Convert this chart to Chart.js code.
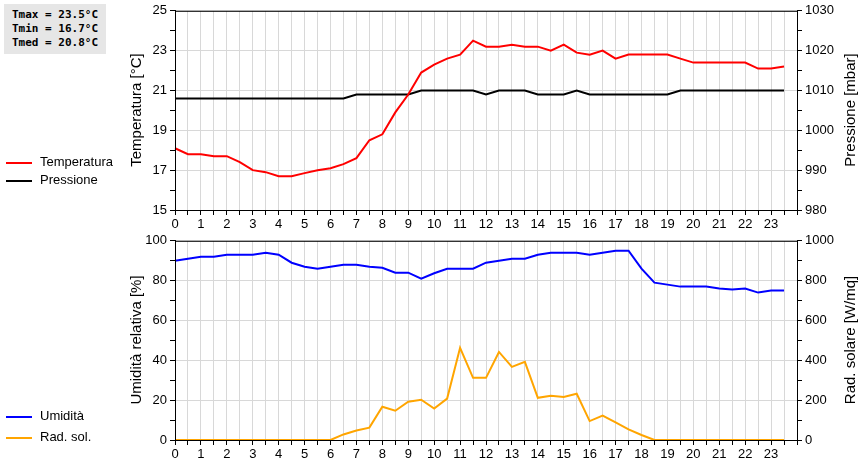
<!DOCTYPE html>
<html><head><meta charset="utf-8">
<script src="https://cdn.jsdelivr.net/npm/chart.js@4/dist/chart.umd.min.js"></script>
<style>
body{margin:0;background:#fff;font-family:"Liberation Sans",Arial,sans-serif;}
#wrap{position:relative;width:860px;height:460px;}
canvas{position:absolute;left:0;}
.stats{position:absolute;left:4px;top:4px;width:102px;height:50px;background:#e6e6e6;font:bold 11px "DejaVu Sans Mono",monospace;line-height:14px;padding:4px 0 0 8px;box-sizing:border-box;white-space:pre;}
.leg{position:absolute;left:6px;font-size:13px;color:#000;}
.leg span{display:inline-block;width:26px;height:2px;vertical-align:middle;margin-right:8px;}
.ttl{position:absolute;width:240px;height:20px;line-height:20px;text-align:center;font-size:15px;transform:rotate(-90deg);white-space:nowrap;}
</style></head><body>
<div id="wrap">
<canvas id="c1" width="860" height="230" style="top:0"></canvas>
<canvas id="c2" width="860" height="230" style="top:230px"></canvas>
<div class="stats">Tmax = 23.5°C
Tmin = 16.7°C
Tmed = 20.8°C</div>
<div class="leg" style="top:154px"><span style="background:#f00"></span>Temperatura</div>
<div class="leg" style="top:172px"><span style="background:#000"></span>Pressione</div>
<div class="leg" style="top:408px"><span style="background:#00f"></span>Umidità</div>
<div class="leg" style="top:429px"><span style="background:#ffa500"></span>Rad. sol.</div>
<div class="ttl" style="left:16px;top:100px">Temperatura [°C]</div>
<div class="ttl" style="left:730px;top:100px">Pressione [mbar]</div>
<div class="ttl" style="left:16px;top:330px">Umidità relativa [%]</div>
<div class="ttl" style="left:730px;top:330px">Rad. solare [W/mq]</div>
</div>
<script>
const hours = [0,0.5,1,1.5,2,2.5,3,3.5,4,4.5,5,5.5,6,6.5,7,7.5,8,8.5,9,9.5,10,10.5,11,11.5,12,12.5,13,13.5,14,14.5,15,15.5,16,16.5,17,17.5,18,18.5,19,19.5,20,20.5,21,21.5,22,22.5,23,23.5];
const temperatura = [18.1,17.8,17.8,17.7,17.7,17.4,17.0,16.9,16.7,16.7,16.85,17.0,17.1,17.3,17.6,18.5,18.8,19.9,20.8,21.9,22.3,22.6,22.8,23.5,23.2,23.2,23.3,23.2,23.2,23.0,23.3,22.9,22.8,23.0,22.6,22.8,22.8,22.8,22.8,22.6,22.4,22.4,22.4,22.4,22.4,22.1,22.1,22.2];
const pressione = [1008,1008,1008,1008,1008,1008,1008,1008,1008,1008,1008,1008,1008,1008,1009,1009,1009,1009,1009,1010,1010,1010,1010,1010,1009,1010,1010,1010,1009,1009,1009,1010,1009,1009,1009,1009,1009,1009,1009,1010,1010,1010,1010,1010,1010,1010,1010,1010];
const umidita = [90,91,92,92,93,93,93,94,93,89,87,86,87,88,88,87,86.5,84,84,81,83.7,86,86,86,89,90,91,91,93,94,94,94,93,94,95,95,86,79,78,77,77,77,76,75.5,76,74,75,75];
const radSol = [0,0,0,0,0,0,0,0,0,0,0,0,0,28,48,62,167,147,192,202,158,208,463,312,312,442,367,392,212,222,216,232,95,122,88,53,25,0,0,0,0,0,0,0,0,0,0,0];

const FONT = {family:'"Liberation Sans", Arial, sans-serif', size:13};
Chart.defaults.font = FONT; Chart.defaults.color = '#000';
const frame = {id:'frame', afterDraw(c){const a=c.chartArea,x=c.ctx;x.save();x.strokeStyle='#000';x.lineWidth=1;x.strokeRect(a.left+0.5,a.top+0.5,a.right-a.left,a.bottom-a.top);x.restore();}};
function xAxis(){return {type:'linear',min:0,max:24,afterFit(s){s.height=20;},
  ticks:{stepSize:0.5,autoSkip:false,maxRotation:0,padding:2,callback:v=>(Number.isInteger(v)&&v<24)?String(v):''},
  grid:{color:'#d8d8d8',tickColor:'#000',tickLength:5},border:{color:'#000'}};}
function isLab(v,min,labStep){const r=(v-min)/labStep;return Math.abs(r-Math.round(r))<1e-6;}
function yAxis(pos,min,max,step,labStep,w,gridOn){return {type:'linear',position:pos,min,max,afterFit(s){s.width=w;},
  ticks:{stepSize:step,autoSkip:false,callback:v=>isLab(v,min,labStep)?String(v):''},
  grid:{drawOnChartArea:gridOn,color:c=>isLab(c.tick.value,min,labStep)?'#d8d8d8':'rgba(0,0,0,0)',tickColor:'#000',tickLength:5},
  border:{color:'#000'}};}
function ds(label,data,color,axis){return {label,data:hours.map((h,i)=>({x:h,y:data[i]})),borderColor:color,borderWidth:2,pointRadius:0,tension:0,yAxisID:axis,clip:false};}
const common = {responsive:false,animation:false,events:[],plugins:{legend:{display:false},tooltip:{enabled:false}}};
new Chart(document.getElementById('c1'),{type:'line',plugins:[frame],
 data:{datasets:[ds('Temperatura',temperatura,'#ff0000','y'),ds('Pressione',pressione,'#000000','y1')]},
 options:{...common,layout:{padding:{top:10,bottom:0,left:0,right:0}},
  scales:{x:xAxis(),y:yAxis('left',15,25,1,2,175,true),y1:yAxis('right',980,1030,5,10,63,false)}}});
new Chart(document.getElementById('c2'),{type:'line',plugins:[frame],
 data:{datasets:[ds('Umidità',umidita,'#0000ff','y'),ds('Rad. sol.',radSol,'#ffa500','y1')]},
 options:{...common,layout:{padding:{top:10,bottom:0,left:0,right:0}},
  scales:{x:xAxis(),y:yAxis('left',0,100,10,20,175,true),y1:yAxis('right',0,1000,100,200,63,false)}}});
</script>
</body></html>
